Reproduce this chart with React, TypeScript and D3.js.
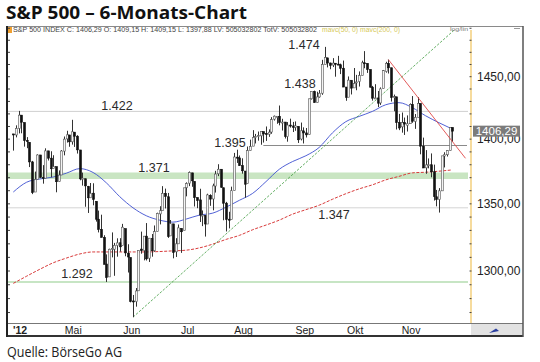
import * as d3 from 'd3'

// daily bars, S&P 500, 29.03.2012 - 26.11.2012
const dates = [
  '2012-03-29', '2012-03-30',
  '2012-04-02', '2012-04-03', '2012-04-04', '2012-04-05', '2012-04-09', '2012-04-10', '2012-04-11', '2012-04-12', '2012-04-13',
  '2012-04-16', '2012-04-17', '2012-04-18', '2012-04-19', '2012-04-20', '2012-04-23', '2012-04-24', '2012-04-25', '2012-04-26',
  '2012-04-27', '2012-04-30',
  '2012-05-01', '2012-05-02', '2012-05-03', '2012-05-04', '2012-05-07', '2012-05-08', '2012-05-09', '2012-05-10', '2012-05-11',
  '2012-05-14', '2012-05-15', '2012-05-16', '2012-05-17', '2012-05-18', '2012-05-21', '2012-05-22', '2012-05-23', '2012-05-24',
  '2012-05-25', '2012-05-29', '2012-05-30', '2012-05-31',
  '2012-06-01', '2012-06-04', '2012-06-05', '2012-06-06', '2012-06-07', '2012-06-08', '2012-06-11', '2012-06-12', '2012-06-13',
  '2012-06-14', '2012-06-15', '2012-06-18', '2012-06-19', '2012-06-20', '2012-06-21', '2012-06-22', '2012-06-25', '2012-06-26',
  '2012-06-27', '2012-06-28', '2012-06-29',
  '2012-07-02', '2012-07-03', '2012-07-05', '2012-07-06', '2012-07-09', '2012-07-10', '2012-07-11', '2012-07-12', '2012-07-13',
  '2012-07-16', '2012-07-17', '2012-07-18', '2012-07-19', '2012-07-20', '2012-07-23', '2012-07-24', '2012-07-25', '2012-07-26',
  '2012-07-27', '2012-07-30', '2012-07-31',
  '2012-08-01', '2012-08-02', '2012-08-03', '2012-08-06', '2012-08-07', '2012-08-08', '2012-08-09', '2012-08-10', '2012-08-13',
  '2012-08-14', '2012-08-15', '2012-08-16', '2012-08-17', '2012-08-20', '2012-08-21', '2012-08-22', '2012-08-23', '2012-08-24',
  '2012-08-27', '2012-08-28', '2012-08-29', '2012-08-30', '2012-08-31',
  '2012-09-04', '2012-09-05', '2012-09-06', '2012-09-07', '2012-09-10', '2012-09-11', '2012-09-12', '2012-09-13', '2012-09-14',
  '2012-09-17', '2012-09-18', '2012-09-19', '2012-09-20', '2012-09-21', '2012-09-24', '2012-09-25', '2012-09-26', '2012-09-27',
  '2012-09-28',
  '2012-10-01', '2012-10-02', '2012-10-03', '2012-10-04', '2012-10-05', '2012-10-08', '2012-10-09', '2012-10-10', '2012-10-11',
  '2012-10-12', '2012-10-15', '2012-10-16', '2012-10-17', '2012-10-18', '2012-10-19', '2012-10-22', '2012-10-23', '2012-10-24',
  '2012-10-25', '2012-10-26', '2012-10-31',
  '2012-11-01', '2012-11-02', '2012-11-05', '2012-11-06', '2012-11-07', '2012-11-08', '2012-11-09', '2012-11-12', '2012-11-13',
  '2012-11-14', '2012-11-15', '2012-11-16', '2012-11-19', '2012-11-20', '2012-11-21', '2012-11-23', '2012-11-26',
]

const opens = [
  1404.1, 1403.3,
  1408.5, 1419.0, 1413.1, 1398.8, 1397.5, 1382.2, 1359.0, 1368.8, 1387.6, 1370.3, 1369.6, 1390.8, 1385.1, 1377.0, 1378.5, 1367.0, 1372.1, 1390.6, 1400.2, 1403.3,
  1397.9, 1405.5, 1402.3, 1391.5, 1368.8, 1369.2, 1363.2, 1354.6, 1358.1, 1351.9, 1338.4, 1330.8, 1324.8, 1305.1, 1295.7, 1316.1, 1316.0, 1318.7, 1320.8, 1318.9, 1331.3, 1313.1,
  1309.9, 1278.3, 1277.8, 1285.6, 1316.1, 1315.0, 1325.7, 1309.4, 1324.0, 1314.9, 1329.2, 1342.4, 1344.8, 1358.0, 1355.4, 1325.9, 1334.9, 1314.1, 1320.0, 1331.5, 1330.1,
  1362.3, 1365.8, 1373.7, 1367.1, 1354.7, 1353.0, 1341.4, 1341.3, 1334.8, 1356.5, 1353.7, 1363.6, 1373.0, 1376.5, 1362.3, 1350.5, 1338.4, 1338.2, 1360.1, 1385.9, 1385.3,
  1379.3, 1375.1, 1365.5, 1391.0, 1394.5, 1401.2, 1402.3, 1402.6, 1405.9, 1404.4, 1403.9, 1405.6, 1415.8, 1417.8, 1418.1, 1413.1, 1413.5, 1402.0, 1411.1, 1410.4, 1409.3, 1410.1, 1400.1,
  1406.5, 1404.9, 1403.7, 1432.1, 1437.9, 1429.1, 1433.6, 1436.6, 1460.1, 1465.4, 1461.2, 1459.5, 1461.0, 1460.3, 1459.8, 1456.9, 1441.6, 1433.4, 1447.1,
  1440.9, 1445.0, 1446.1, 1451.1, 1461.4, 1460.9, 1455.9, 1441.5, 1432.8, 1432.8, 1428.8, 1440.3, 1454.2, 1460.9, 1457.3, 1433.2, 1433.7, 1413.2, 1409.7, 1413.0, 1411.0,
  1412.2, 1427.6, 1414.0, 1417.3, 1428.3, 1394.5, 1377.6, 1379.9, 1380.0, 1374.6, 1355.4, 1353.4, 1359.9, 1386.8, 1387.8, 1391.0, 1409.2,
]

const highs = [
  1404.1, 1410.9,
  1422.4, 1419.0, 1413.1, 1401.6, 1397.5, 1383.0, 1374.7, 1388.1, 1387.6, 1379.7, 1392.8, 1390.8, 1390.5, 1387.4, 1378.5, 1375.6, 1391.4, 1402.1, 1406.6, 1403.3,
  1415.3, 1405.5, 1403.1, 1391.5, 1373.9, 1369.2, 1363.7, 1365.9, 1365.7, 1351.9, 1344.9, 1341.8, 1326.4, 1312.2, 1316.4, 1328.5, 1320.7, 1324.1, 1324.2, 1334.9, 1331.3, 1319.7,
  1309.9, 1282.6, 1287.6, 1315.1, 1329.1, 1325.8, 1335.5, 1324.3, 1327.3, 1333.7, 1343.3, 1348.2, 1363.5, 1361.6, 1358.3, 1337.8, 1334.9, 1324.2, 1334.4, 1331.5, 1362.2,
  1366.4, 1374.8, 1373.8, 1367.1, 1354.9, 1361.5, 1345.0, 1341.3, 1357.7, 1357.3, 1365.4, 1375.3, 1380.4, 1376.5, 1362.3, 1351.5, 1344.0, 1363.1, 1389.2, 1391.7, 1387.2,
  1385.0, 1375.1, 1394.2, 1399.6, 1407.1, 1404.1, 1406.0, 1406.0, 1405.9, 1410.0, 1407.7, 1417.4, 1418.7, 1418.1, 1426.7, 1416.1, 1413.5, 1413.5, 1416.2, 1413.6, 1414.0, 1410.1, 1413.1,
  1409.3, 1408.8, 1432.1, 1437.9, 1438.7, 1437.8, 1439.2, 1463.8, 1474.5, 1465.6, 1461.5, 1465.2, 1461.2, 1467.1, 1460.7, 1463.2, 1441.6, 1450.2, 1447.1,
  1457.1, 1451.5, 1454.3, 1463.1, 1471.0, 1460.9, 1455.9, 1442.5, 1443.9, 1438.4, 1441.3, 1455.5, 1462.2, 1464.0, 1457.3, 1435.5, 1433.7, 1420.0, 1421.1, 1417.1, 1418.8,
  1428.4, 1434.3, 1419.9, 1433.4, 1428.3, 1401.2, 1391.4, 1384.9, 1388.8, 1380.1, 1360.6, 1362.0, 1386.9, 1389.7, 1391.3, 1409.2, 1409.2,
]

const lows = [
  1391.0, 1401.4,
  1404.5, 1404.6, 1394.1, 1392.9, 1378.2, 1357.4, 1359.0, 1368.8, 1369.9, 1365.4, 1369.6, 1383.3, 1370.3, 1377.0, 1358.8, 1366.8, 1372.1, 1387.3, 1397.3, 1394.0,
  1395.7, 1393.9, 1388.7, 1368.0, 1363.9, 1347.8, 1343.1, 1354.6, 1348.9, 1336.6, 1328.5, 1324.8, 1304.9, 1292.0, 1295.7, 1310.0, 1296.5, 1310.5, 1314.2, 1318.9, 1310.8, 1298.9,
  1277.3, 1266.7, 1274.2, 1285.6, 1312.7, 1307.8, 1307.7, 1306.6, 1310.5, 1314.1, 1329.2, 1334.5, 1344.8, 1346.5, 1324.4, 1325.9, 1309.3, 1310.3, 1320.0, 1313.3, 1330.1,
  1355.7, 1363.5, 1363.0, 1348.0, 1346.7, 1336.3, 1333.2, 1325.4, 1334.8, 1348.5, 1345.1, 1358.6, 1371.2, 1362.2, 1337.6, 1329.2, 1331.5, 1338.2, 1360.1, 1381.4, 1379.2,
  1373.1, 1354.7, 1365.5, 1391.0, 1394.5, 1396.6, 1398.8, 1395.6, 1397.3, 1398.6, 1401.8, 1404.2, 1414.7, 1412.1, 1410.9, 1406.8, 1400.5, 1398.0, 1409.1, 1405.6, 1406.6, 1397.0, 1399.0,
  1396.6, 1401.3, 1403.7, 1431.5, 1429.0, 1429.1, 1433.0, 1435.3, 1460.1, 1457.6, 1456.1, 1457.9, 1450.0, 1459.5, 1452.1, 1441.6, 1430.5, 1433.4, 1435.6,
  1440.9, 1439.0, 1442.0, 1451.1, 1456.9, 1453.1, 1441.2, 1430.6, 1432.8, 1425.5, 1427.2, 1440.3, 1453.3, 1452.6, 1429.9, 1422.1, 1407.6, 1407.1, 1405.1, 1403.3, 1406.0,
  1412.2, 1412.9, 1408.1, 1417.3, 1388.1, 1377.5, 1373.0, 1377.2, 1370.3, 1352.5, 1348.1, 1343.4, 1359.9, 1377.9, 1386.4, 1391.0, 1397.9,
]

const closes = [
  1403.3, 1408.5,
  1419.0, 1413.4, 1399.0, 1398.1, 1382.2, 1358.6, 1368.7, 1387.6, 1370.3, 1369.6, 1390.8, 1385.1, 1376.9, 1378.5, 1366.9, 1372.0, 1390.7, 1400.0, 1403.4, 1397.9,
  1405.8, 1402.3, 1391.6, 1369.1, 1369.6, 1363.7, 1354.6, 1358.0, 1353.4, 1338.4, 1330.7, 1324.8, 1304.9, 1295.2, 1316.0, 1316.6, 1318.9, 1320.7, 1317.8, 1332.4, 1313.3, 1310.3,
  1278.0, 1278.2, 1285.5, 1315.1, 1315.0, 1325.7, 1308.9, 1324.2, 1314.9, 1329.1, 1342.8, 1344.8, 1358.0, 1355.7, 1325.5, 1335.0, 1313.7, 1320.0, 1331.9, 1329.0, 1362.2,
  1365.5, 1374.0, 1367.6, 1354.7, 1352.5, 1341.5, 1341.5, 1334.8, 1356.8, 1353.6, 1363.7, 1372.8, 1376.5, 1362.7, 1350.5, 1338.3, 1337.9, 1360.0, 1386.0, 1385.3, 1379.3,
  1375.3, 1365.0, 1391.0, 1394.2, 1401.4, 1402.2, 1402.8, 1405.9, 1404.1, 1403.9, 1405.5, 1415.5, 1418.2, 1418.1, 1413.2, 1413.5, 1402.1, 1411.1, 1410.4, 1409.3, 1410.5, 1399.5, 1406.6,
  1404.9, 1403.4, 1432.1, 1437.9, 1429.1, 1433.6, 1436.6, 1460.0, 1465.8, 1461.2, 1459.3, 1461.1, 1460.3, 1460.2, 1456.9, 1441.6, 1433.3, 1447.2, 1440.7,
  1444.5, 1445.8, 1451.0, 1461.4, 1460.9, 1455.9, 1441.5, 1432.6, 1432.8, 1428.6, 1440.1, 1454.9, 1460.9, 1457.3, 1433.2, 1433.8, 1413.1, 1408.8, 1413.0, 1411.9, 1412.2,
  1427.6, 1414.2, 1417.3, 1428.4, 1394.5, 1377.5, 1379.9, 1380.0, 1374.5, 1355.5, 1353.3, 1359.9, 1386.9, 1387.8, 1391.0, 1409.2, 1406.3,
]

// moving averages (bar index -> value)
const maIndex = [0, 5, 10, 15, 20, 25, 30, 35, 40, 45, 50, 55, 60, 65, 70, 75, 80, 85, 90, 95, 100, 105, 110, 115, 120, 125, 130, 135, 140, 145, 150, 155, 160, 165]
const ma50 = [
  1359, 1366.5, 1369, 1370.5, 1373.5, 1377, 1374, 1366, 1355.5, 1347, 1341, 1337.7, 1336.2, 1338.5, 1341.5, 1343, 1347.5,
  1352.7, 1358, 1367, 1376.5, 1382.5, 1387, 1393.5, 1405, 1413.8, 1418, 1422, 1427.3, 1429, 1425, 1418.5, 1413, 1408,
]
const ma200 = [
  1291, 1296.2, 1301.3, 1306, 1309.5, 1312.5, 1314, 1314, 1314, 1314, 1314, 1314.3, 1314.8, 1315.3, 1317, 1319.8, 1323.3,
  1326.3, 1330.5, 1334, 1337.7, 1342.2, 1345.6, 1349, 1353.5, 1357.7, 1361.4, 1364.5, 1368.3, 1371, 1373.7, 1374.2, 1375, 1376,
]

// trend lines [bar index, value]
const upTrend: [number, number][] = [[45, 1266.7], [166, 1489]]
const downTrend: [number, number][] = [[141, 1464], [170, 1385]]

// marked levels
const levelValues = [1474, 1438, 1422, 1395, 1371, 1347, 1292]
const levelLabels = ['1.474', '1.438', '1.422', '1.395', '1.371', '1.347', '1.292']

const yTicks = [1300, 1350, 1400, 1450]
const yTickLabels = ['1300,00', '1350,00', '1400,00', '1450,00']
const lastValue = 1406.29
const lastLabel = '1406,29'

const monthStarts = ['2012-04-02', '2012-05-01', '2012-06-01', '2012-07-02', '2012-08-01', '2012-09-04', '2012-10-01', '2012-11-01']
const monthLabels = ["'12", 'Mai', 'Jun', 'Jul', 'Aug', 'Sep', 'Okt', 'Nov']

const sans = "'Liberation Sans', Arial, sans-serif"

export default function App() {
  const plotLeft = 8
  const plotRight = 471
  const plotTop = 26
  const plotBottom = 323

  const x = d3.scaleLinear().domain([0, 165]).range([13.3, 452.2])
  const y = d3.scaleLog().domain([1300, 1450]).range([271, 76.7])

  const maLine = d3.line<number>()
    .x((_, i) => x(maIndex[i]))
    .y(d => y(d))
    .curve(d3.curveMonotoneX)

  const minorTicks = d3.range(1270, 1491, 10)

  // label anchors: [x center, y center] of each level text
  const labelPos: [number, number][] = [
    [304, 45], [300, 84], [117, 106], [230, 143], [154, 168], [334, 215], [77, 274],
  ]

  return (
    <svg width={540} height={362} style={{ position: 'absolute', left: 0, top: 0, background: '#fff' }}>
      <text x={6} y={19} fontFamily="'Open Sans', sans-serif" fontWeight={700} fontSize={18}
        textLength={241} lengthAdjust="spacingAndGlyphs" fill="#111">S&amp;P 500 – 6-Monats-Chart</text>

      {/* level lines */}
      <line x1={plotLeft} x2={468} y1={y(1422)} y2={y(1422)} stroke="#cfcfcf" strokeWidth={1} />
      <line x1={plotLeft} x2={468} y1={y(1347)} y2={y(1347)} stroke="#d4d4d4" strokeWidth={1} />
      <rect x={plotLeft} width={468 - plotLeft} y={y(1374)} height={y(1369) - y(1374)} fill="#c9e5c2" />
      <line x1={plotLeft} x2={468} y1={y(1292)} y2={y(1292)} stroke="#b5dcb0" strokeWidth={1.6} />
      <line x1={x(94)} x2={467} y1={y(1395)} y2={y(1395)} stroke="#8a8a8a" strokeWidth={1} />

      {/* moving averages */}
      <path d={maLine(ma200) || ''} fill="none" stroke="#d83a3a" strokeWidth={1} strokeDasharray="3,1.5" />
      <path d={maLine(ma50) || ''} fill="none" stroke="#3d4fd0" strokeWidth={0.9} />

      {/* trend lines */}
      <line x1={x(upTrend[0][0])} y1={y(upTrend[0][1])} x2={x(upTrend[1][0])} y2={y(upTrend[1][1])}
        stroke="#3d9a3d" strokeWidth={0.8} strokeDasharray="2.5,1.5" />

      {/* candles */}
      {dates.map((d, i) => {
        const cx = Math.round(x(i)) + 0.5
        const o = opens[i]
        const c = closes[i]
        const up = c >= o
        const top = y(Math.max(o, c))
        const bot = y(Math.min(o, c))
        return (
          <g key={d}>
            <line x1={cx} x2={cx} y1={y(highs[i])} y2={y(lows[i])} stroke="#333" strokeWidth={1} />
            <rect x={cx - 1} width={2} y={top} height={Math.max(1, bot - top)}
              fill={up ? '#f4f4f4' : '#111'} stroke={up ? '#555' : '#111'} strokeWidth={0.6} />
          </g>
        )
      })}

      <line x1={x(downTrend[0][0])} y1={y(downTrend[0][1])} x2={x(downTrend[1][0])} y2={y(downTrend[1][1])}
        stroke="#e04848" strokeWidth={0.9} />

      {/* level labels */}
      {levelLabels.map((t, i) => (
        <text key={t} x={labelPos[i][0]} y={labelPos[i][1]} dy="0.35em" textAnchor="middle"
          fontFamily={sans} fontSize={12.5} fill="#2a2a2a" data-level={levelValues[i]}>{t}</text>
      ))}

      {/* header strip */}
      <rect x={7} y={26} width={5} height={7} fill="#f0a030" />
      <text x={13} y={32} fontFamily={sans} fontSize={6.3} fill="#444" textLength={304} lengthAdjust="spacingAndGlyphs">
        S&amp;P 500 INDEX C: 1406,29 O: 1409,15 H: 1409,15 L: 1397,88 LV: 505032802 TotV: 505032802
      </text>
      <text x={322} y={32} fontFamily={sans} fontSize={6.3} fill="#d6c95a" textLength={78} lengthAdjust="spacingAndGlyphs">
        mavc(50, 0) mavc(200, 0)
      </text>
      <text x={450} y={31} fontFamily={sans} fontSize={6} fill="#777" textLength={18} lengthAdjust="spacingAndGlyphs">log/lin</text>
      <line x1={514} x2={520} y1={28.5} y2={28.5} stroke="#999" strokeWidth={1} />

      {/* price axis */}
      <line x1={plotRight} x2={plotRight} y1={30} y2={plotBottom} stroke="#f0c35c" strokeWidth={1.2} />
      {minorTicks.map(v => (
        <g key={v}>
          <line x1={plotRight - 1.5} x2={plotRight + 0.5} y1={y(v)} y2={y(v)} stroke="#444" strokeWidth={1} />
          <line x1={plotLeft - 1} x2={plotLeft + 2} y1={y(v)} y2={y(v)} stroke="#444" strokeWidth={1} />
        </g>
      ))}
      {yTicks.map((v, i) => (
        <text key={v} x={477} y={y(v)} dy="0.35em" fontFamily={sans} fontSize={12} fill="#222">{yTickLabels[i]}</text>
      ))}
      <rect x={473} y={y(lastValue) - 5.5} width={47} height={11} fill="#7b7b7b" />
      <text x={496.5} y={y(lastValue)} dy="0.36em" textAnchor="middle" fontFamily={sans} fontSize={11.5} fill="#fff">{lastLabel}</text>

      {/* time axis band */}
      <rect x={plotRight} y={324} width={523 - plotRight} height={11.5} fill="#e2e2e2" />
      <path d="M489,333 L496,328.5 L499,331 Z" fill="#2a3fa0" />
      <line x1={7} x2={523} y1={323.5} y2={323.5} stroke="#777" strokeWidth={1} />
      <line x1={7} x2={523} y1={336} y2={336} stroke="#333" strokeWidth={2} />
      {monthLabels.map((m, i) => {
        const idx = dates.indexOf(monthStarts[i])
        return (
          <text key={m} x={x(idx) + 1.5} y={330} dy="0.35em" textAnchor="middle"
            fontFamily={sans} fontSize={10.5} fontWeight={i === 0 ? 700 : 400} fill="#222">{m}</text>
        )
      })}

      {/* frame */}
      <line x1={7} x2={523} y1={26.5} y2={26.5} stroke="#8a8a8a" strokeWidth={1} />
      <line x1={7} x2={7} y1={26} y2={337} stroke="#222" strokeWidth={2} />
      <line x1={523} x2={523} y1={26} y2={337} stroke="#555" strokeWidth={1.5} />

      <text x={7} y={357} fontFamily="'Open Sans', sans-serif" fontSize={14} fill="#222"
        textLength={115} lengthAdjust="spacingAndGlyphs">Quelle: BörseGo AG</text>
    </svg>
  )
}
